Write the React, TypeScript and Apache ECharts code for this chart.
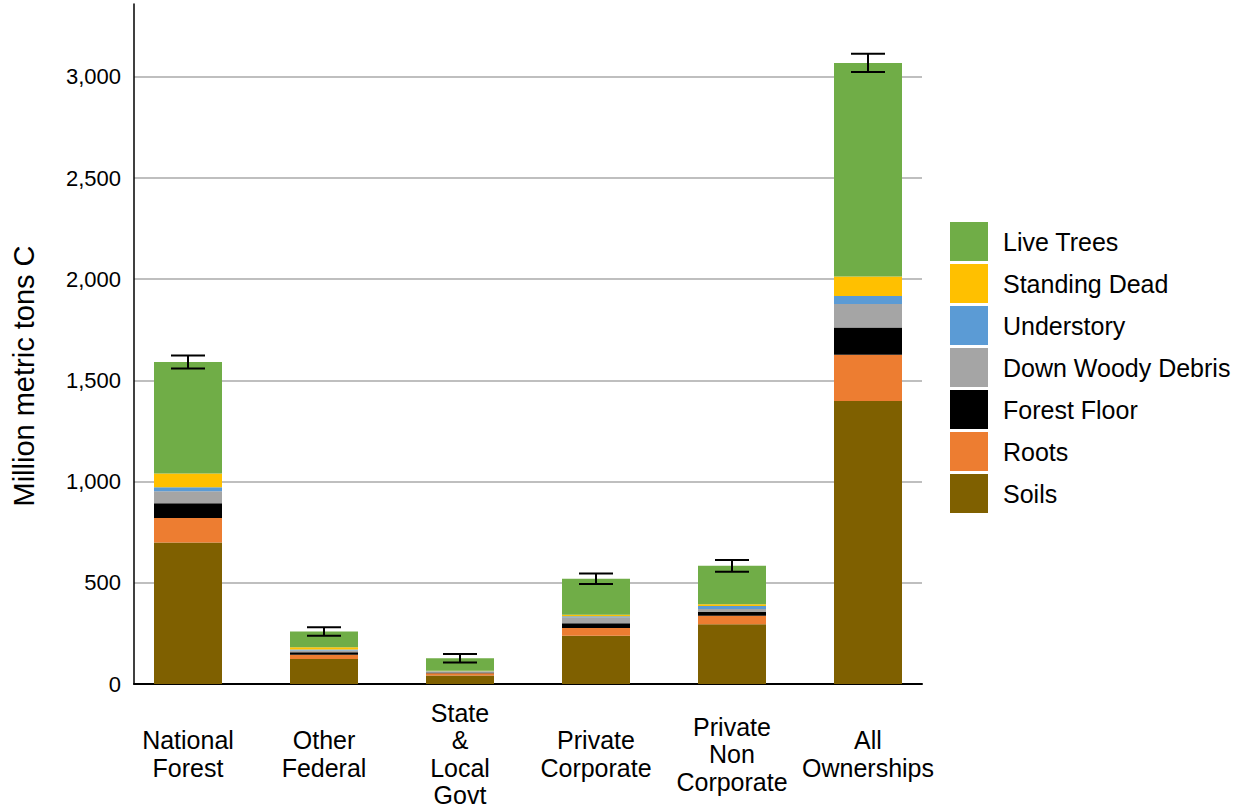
import React, { useEffect, useRef } from 'react';
import * as echarts from 'echarts';

const categories = [
  'National\nForest',
  'Other\nFederal',
  'State\n&\nLocal\nGovt',
  'Private\nCorporate',
  'Private\nNon\nCorporate',
  'All\nOwnerships',
];

// million metric tons C, per pool (bottom to top of the stack)
const soils = [699, 124, 42, 238, 295, 1398];
const roots = [121, 20, 11, 39, 42, 229];
const forestFloor = [73, 13, 4, 23, 19, 134];
const downWoodyDebris = [59, 8, 4, 30, 15, 117];
const understory = [20, 5, 2, 5, 15, 39];
const standingDead = [68, 12, 3, 7, 8, 96];
const liveTrees = [551, 77, 61, 178, 190, 1056];
const errorMargin = [32, 21, 21, 26, 29, 45];

const yTicks = [0, 500, 1000, 1500, 2000, 2500, 3000];

const pools = [
  { name: 'Soils', data: soils, color: '#7F6000' },
  { name: 'Roots', data: roots, color: '#ED7D31' },
  { name: 'Forest Floor', data: forestFloor, color: '#000000' },
  { name: 'Down Woody Debris', data: downWoodyDebris, color: '#A5A5A5' },
  { name: 'Understory', data: understory, color: '#5B9BD5' },
  { name: 'Standing Dead', data: standingDead, color: '#FFC000' },
  { name: 'Live Trees', data: liveTrees, color: '#70AD47' },
];

const FONT = '"Liberation Sans", Arial, sans-serif';
const Y_MAX = 3360;

const App = () => {
  const chartRef = useRef<HTMLDivElement>(null);

  useEffect(() => {
    if (!chartRef.current) return;
    const chart = echarts.init(chartRef.current, undefined, { renderer: 'svg' });

    const totals = categories.map((_, i) => pools.reduce((s, p) => s + p.data[i], 0));
    const errData = totals.map((t, i) => [i, t - errorMargin[i], t + errorMargin[i]]);

    chart.setOption({
      animation: false,
      textStyle: { fontFamily: FONT },
      grid: [
        { left: 134, right: 320, top: 4, bottom: 125 },
        { left: 120, right: 306, top: 4, bottom: 125 },
      ],
      legend: {
        orient: 'vertical',
        left: 945,
        top: 217,
        itemWidth: 38,
        itemHeight: 39,
        itemGap: 3,
        icon: 'rect',
        data: pools.map((p) => p.name).reverse(),
        textStyle: { fontSize: 25, color: '#000', fontFamily: FONT, padding: [0, 0, 0, 10] },
      },
      graphic: [
        {
          type: 'text',
          x: 24,
          y: 376,
          rotation: Math.PI / 2,
          style: {
            text: 'Million metric tons C',
            fontSize: 29,
            fontFamily: FONT,
            fill: '#000',
            align: 'center',
            verticalAlign: 'middle',
          },
        },
      ],
      xAxis: [
        {
          gridIndex: 0,
          type: 'value',
          min: 0,
          max: 1,
          axisLine: { show: true, lineStyle: { color: '#000', width: 2 } },
          axisTick: { show: false },
          axisLabel: { show: false },
          splitLine: { show: false },
        },
        {
          gridIndex: 1,
          type: 'category',
          data: categories,
          axisLine: { show: false },
          axisTick: { show: false },
          axisLabel: {
            fontSize: 25,
            color: '#000',
            fontFamily: FONT,
            lineHeight: 27.5,
            verticalAlign: 'middle',
            margin: 70,
            interval: 0,
          },
        },
      ],
      yAxis: [
        {
          gridIndex: 0,
          type: 'value',
          min: 0,
          max: Y_MAX,
          interval: 500,
          axisLine: { show: true, lineStyle: { color: '#000', width: 1.5 } },
          axisTick: { show: false },
          axisLabel: {
            fontSize: 22,
            color: '#000',
            fontFamily: FONT,
            margin: 13,
            showMaxLabel: false,
            formatter: (v: number) => (yTicks.includes(v) ? v.toLocaleString('en-US') : ''),
          },
          splitLine: {
            show: true,
            showMinLine: false,
            showMaxLine: false,
            lineStyle: { color: '#BFBFBF', width: 2 },
          },
        },
        {
          gridIndex: 1,
          type: 'value',
          min: 0,
          max: Y_MAX,
          show: false,
        },
      ],
      series: [
        ...pools.map((p) => ({
          name: p.name,
          type: 'bar',
          stack: 'total',
          xAxisIndex: 1,
          yAxisIndex: 1,
          barWidth: 68,
          itemStyle: { color: p.color },
          data: p.data,
        })),
        {
          name: 'error',
          type: 'custom',
          xAxisIndex: 1,
          yAxisIndex: 1,
          z: 5,
          data: errData,
          renderItem: (params: any, api: any) => {
            const x = api.value(0);
            const lo = api.coord([x, api.value(1)]);
            const hi = api.coord([x, api.value(2)]);
            const half = api.size([1, 0])[0] * 0.125;
            const style = { stroke: '#000', lineWidth: 2 };
            return {
              type: 'group',
              children: [
                { type: 'line', shape: { x1: lo[0], y1: lo[1], x2: hi[0], y2: hi[1] }, style },
                { type: 'line', shape: { x1: lo[0] - half, y1: lo[1], x2: lo[0] + half, y2: lo[1] }, style },
                { type: 'line', shape: { x1: hi[0] - half, y1: hi[1], x2: hi[0] + half, y2: hi[1] }, style },
              ],
            };
          },
        },
      ],
    });

    return () => {
      chart.dispose();
    };
  }, []);

  return (
    <div
      ref={chartRef}
      style={{ position: 'fixed', left: 0, top: 0, width: 1242, height: 809, background: '#fff' }}
    ></div>
  );
};

export default App;
